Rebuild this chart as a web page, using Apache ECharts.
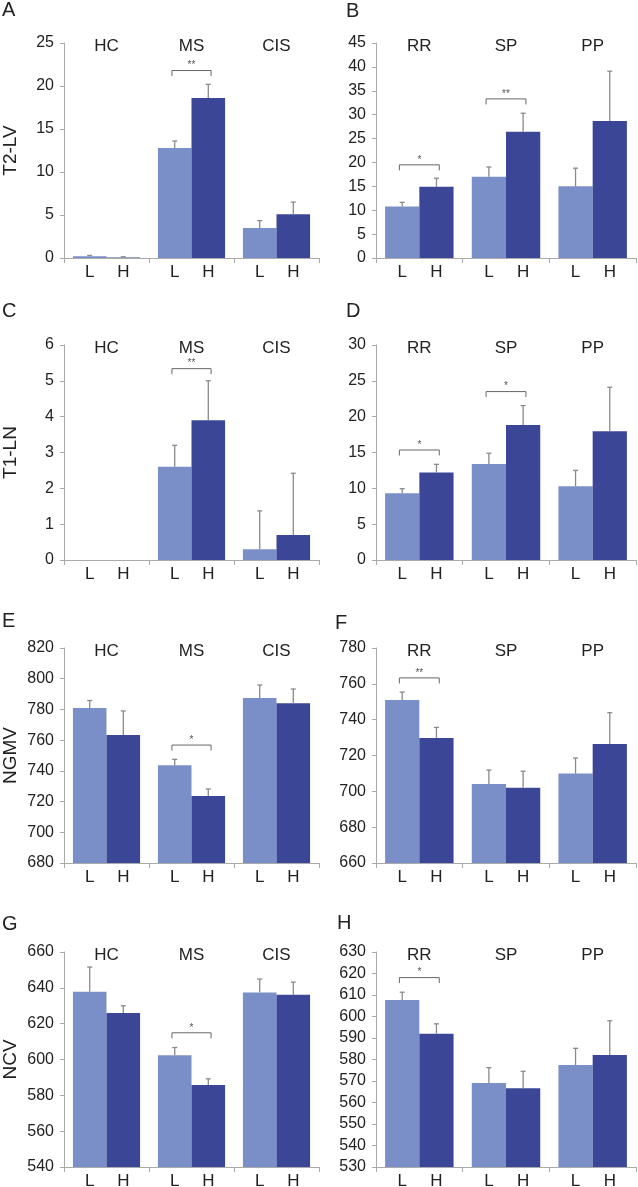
<!DOCTYPE html>
<html><head><meta charset="utf-8">
<script src="https://cdn.jsdelivr.net/npm/echarts@6/dist/echarts.min.js"></script>
<style>html,body{margin:0;padding:0;background:#fff}#c{width:638px;height:1187px}</style>
</head><body><div id="c"></div>
<script>
// ---- categories & labels ----
const groupsLeft = ['HC', 'MS', 'CIS'];
const groupsRight = ['RR', 'SP', 'PP'];
const subLabels = ['L', 'H'];
const panelLetters = ['A', 'B', 'C', 'D', 'E', 'F', 'G', 'H'];
const rowNames = ['T2-LV', 'T1-LN', 'NGMV', 'NCV'];
const yMins = [0, 0, 0, 0, 680, 660, 540, 530];
const yMaxs = [25, 45, 6, 30, 820, 780, 660, 630];
const yIntervals = [5, 5, 1, 5, 20, 20, 20, 10];

// ---- values (mean, error) ----
const aLow = [0.2, 12.8, 3.5];      const aLowErr = [0.1, 0.8, 0.85];
const aHigh = [0.07, 18.6, 5.1];    const aHighErr = [0.07, 1.6, 1.4];
const aSig = [[1, 21.8, '**']];

const bLow = [10.8, 17.0, 15.0];    const bLowErr = [0.85, 2.05, 3.8];
const bHigh = [14.9, 26.4, 28.7];   const bHighErr = [1.8, 3.9, 10.4];
const bSig = [[0, 19.5, '*'], [1, 33.3, '**']];

const cLow = [0, 2.6, 0.3];         const cLowErr = [0, 0.6, 1.07];
const cHigh = [0, 3.9, 0.7];        const cHighErr = [0, 1.1, 1.72];
const cSig = [[1, 5.34, '**']];

const dLow = [9.3, 13.4, 10.3];     const dLowErr = [0.65, 1.5, 2.2];
const dHigh = [12.2, 18.85, 17.95]; const dHighErr = [1.15, 2.7, 6.15];
const dSig = [[0, 15.35, '*'], [1, 23.5, '*']];

const eLow = [781, 743.6, 787.4];   const eLowErr = [4.8, 3.9, 8.5];
const eHigh = [763.4, 723.6, 784];  const eHighErr = [15.6, 4.6, 9.3];
const eSig = [[1, 756.8, '*']];

const fLow = [751, 704.1, 709.9];   const fLowErr = [4.4, 7.8, 8.7];
const fHigh = [729.8, 702, 726.4];  const fHighErr = [5.9, 9.2, 17.5];
const fSig = [[0, 763.3, '**']];

const gLow = [637.8, 602.4, 637.4]; const gLowErr = [13.8, 4.3, 7.5];
const gHigh = [625.9, 585.8, 636.1];const gHighErr = [4.1, 3.4, 7.1];
const gSig = [[1, 614.9, '*']];

const hLow = [607.7, 569.1, 577.4]; const hLowErr = [3.6, 7.1, 7.8];
const hHigh = [592, 566.6, 582.1];  const hHighErr = [4.6, 7.9, 15.9];
const hSig = [[0, 618.1, '*']];

const panels = [
  [aLow, aLowErr, aHigh, aHighErr, aSig],
  [bLow, bLowErr, bHigh, bHighErr, bSig],
  [cLow, cLowErr, cHigh, cHighErr, cSig],
  [dLow, dLowErr, dHigh, dHighErr, dSig],
  [eLow, eLowErr, eHigh, eHighErr, eSig],
  [fLow, fLowErr, fHigh, fHighErr, fSig],
  [gLow, gLowErr, gHigh, gHighErr, gSig],
  [hLow, hLowErr, hHigh, hHighErr, hSig]
];

// ---- layout / style ----
const FONT = 'Liberation Sans, Arial, sans-serif';
const TXT = '#222';
const AXIS = '#aaaaaa';
const ERR = '#8a8a8a';
const LIGHT = '#7a8fc7';
const DARK = '#3b4796';
const gridLefts = [61, 376];
const gridWidths = [258, 260];
const gridTops = [43, 345, 648, 952];
const gridHeight = 215;
const letterPos = [[2, 0], [346, 1], [2, 301], [346, 301], [2, 611], [335, 613], [2, 914], [337, 913]];

const grid = [], xAxis = [], yAxis = [], series = [], title = [];

panels.forEach((p, i) => {
  const col = i % 2, row = Math.floor(i / 2);
  const [low, lowErr, high, highErr, sig] = p;
  const groups = col === 0 ? groupsLeft : groupsRight;
  grid.push({ left: gridLefts[col], width: gridWidths[col], top: gridTops[row], height: gridHeight });
  title.push({ text: panelLetters[i], left: letterPos[i][0], top: letterPos[i][1], padding: 0,
    textStyle: { fontSize: 20, fontWeight: 'normal', color: TXT, fontFamily: FONT } });
  // bottom axis: ticks at group boundaries
  xAxis.push({ type: 'category', gridIndex: i, position: 'bottom', data: groups,
    axisLine: { onZero: false, lineStyle: { color: AXIS, width: 1 } },
    axisTick: { show: true, length: 5, lineStyle: { color: AXIS } },
    axisLabel: { show: false }, splitLine: { show: false } });
  // top axis: group names
  xAxis.push({ type: 'category', gridIndex: i, position: 'top', data: groups,
    axisLine: { show: false, onZero: false }, axisTick: { show: false },
    axisLabel: { margin: -3, verticalAlign: 'middle', fontSize: 17, color: TXT, fontFamily: FONT },
    splitLine: { show: false } });
  yAxis.push({ type: 'value', gridIndex: i, min: yMins[i], max: yMaxs[i], interval: yIntervals[i],
    name: col === 0 ? rowNames[row] : '', nameLocation: 'middle', nameGap: 44,
    nameTextStyle: { fontSize: 19, color: TXT, fontFamily: FONT },
    axisLine: { show: true, lineStyle: { color: AXIS } },
    axisTick: { show: true, length: 4, lineStyle: { color: AXIS } },
    axisLabel: { margin: 10, fontSize: 16, color: TXT, fontFamily: FONT },
    splitLine: { show: false } });
  const xi = i * 2;
  series.push({ type: 'bar', xAxisIndex: xi, yAxisIndex: i, data: low, barGap: 0, barCategoryGap: '21%',
    itemStyle: { color: LIGHT }, silent: true, animation: false });
  series.push({ type: 'bar', xAxisIndex: xi, yAxisIndex: i, data: high, barGap: 0, barCategoryGap: '21%',
    itemStyle: { color: DARK }, silent: true, animation: false });
  const errData = [];
  for (let g = 0; g < 3; g++) {
    errData.push([g, 0, low[g], lowErr[g]]);
    errData.push([g, 1, high[g], highErr[g]]);
  }
  const yMin = yMins[i];
  series.push({ type: 'custom', xAxisIndex: xi, yAxisIndex: i, data: errData, silent: true, animation: false, z: 5,
    renderItem: (params, api) => {
      const cat = api.value(0), s = api.value(1), v = api.value(2), e = api.value(3);
      const band = api.size([1, 0])[0];
      const base = api.coord([cat, v]);
      const x = base[0] + band * 0.1975 * (s === 0 ? -1 : 1);
      const children = [];
      if (e > 0) {
        const top = api.coord([cat, v + e])[1];
        children.push({ type: 'line', shape: { x1: x, y1: base[1], x2: x, y2: top }, style: { stroke: ERR, lineWidth: 1.3 } });
        children.push({ type: 'line', shape: { x1: x - 2.5, y1: top, x2: x + 2.5, y2: top }, style: { stroke: ERR, lineWidth: 1.3 } });
      }
      const yb = api.coord([cat, yMin])[1];
      children.push({ type: 'text', x: x, y: yb + 14,
        style: { text: subLabels[s], fontSize: 17, fill: TXT, align: 'center', verticalAlign: 'middle', fontFamily: FONT } });
      return { type: 'group', children };
    } });
  series.push({ type: 'custom', xAxisIndex: xi, yAxisIndex: i, data: sig.map(d => [d[0], d[1]]), silent: true, animation: false, z: 5,
    renderItem: (params, api) => {
      const cat = api.value(0), lvl = api.value(1);
      const band = api.size([1, 0])[0];
      const pt = api.coord([cat, lvl]);
      const x1 = pt[0] - band * 0.23, x2 = pt[0] + band * 0.23, y = pt[1];
      return { type: 'group', children: [
        { type: 'polyline', shape: { points: [[x1, y + 5.5], [x1, y], [x2, y], [x2, y + 5.5]] }, style: { stroke: '#666', lineWidth: 1, fill: null } },
        { type: 'text', x: pt[0], y: y - 5, style: { text: sig[params.dataIndex][2], fontSize: 10, fill: '#555', align: 'center', verticalAlign: 'middle', fontFamily: FONT } }
      ] };
    } });
});

const chart = echarts.init(document.getElementById('c'), null, { renderer: 'canvas' });
chart.setOption({ backgroundColor: '#fff', animation: false, title, grid, xAxis, yAxis, series });
</script></body></html>
